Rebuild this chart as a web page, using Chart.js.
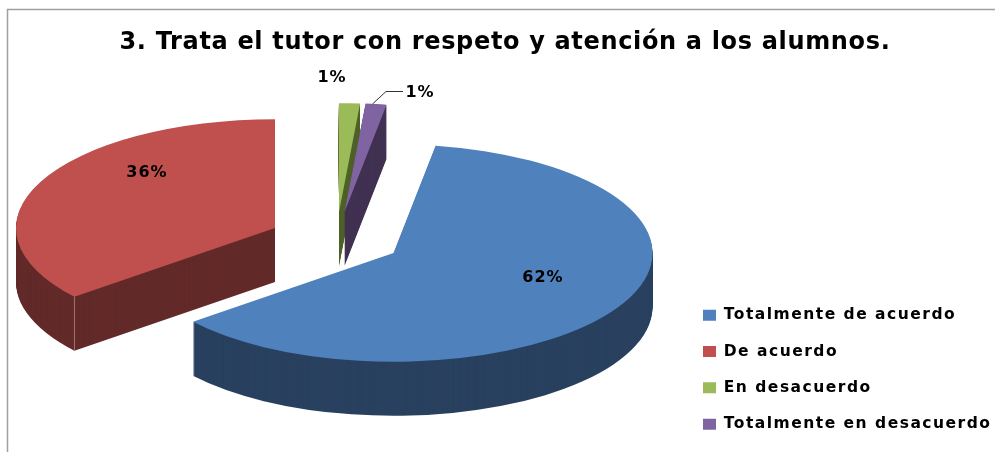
<!DOCTYPE html>
<html><head><meta charset="utf-8">
<style>html,body{margin:0;padding:0;background:#fff}canvas{display:block}</style>
<script src="https://cdn.jsdelivr.net/npm/chart.js@4"></script>
</head><body><canvas id="c" width="995" height="452"></canvas>
<script>
const chartTitle = '3. Trata el tutor con respeto y atención a los alumnos.';
const categories = ['Totalmente de acuerdo', 'De acuerdo', 'En desacuerdo', 'Totalmente en desacuerdo'];
const shares = [61.5, 35.9, 1.3, 1.3];
const topColors = ['#4F81BD', '#C0504D', '#9BBB59', '#8064A2'];
const sideColors = ['#29415F', '#632A2A', '#4F6228', '#403152'];

// Presentation of the tilted, exploded pie
const tilt = 0.42, depth = 54, radius = 259, rotationDeg = 9.35;
const sliceCentres = [[393.5, 253], [275, 228], [339, 212], [344.5, 212]];
const drawOrder = [2, 3, 1, 0];
const labelSpots = [[543, 278], [147, 173], [332, 78], [420, 93]];

const pie3d = {
  id: 'pie3d',
  beforeDraw(chart) {
    const ctx = chart.ctx;
    ctx.save();
    ctx.strokeStyle = '#A0A0A0';
    ctx.lineWidth = 1.5;
    ctx.beginPath();
    ctx.moveTo(7.5, 452); ctx.lineTo(7.5, 9.5); ctx.lineTo(995, 9.5);
    ctx.stroke();
    ctx.restore();
    const lg = chart.legend;
    lg.left = 703 - lg.options.labels.padding;
    lg.right = 995;
    lg.top = 307.5 - lg.options.labels.padding;
    lg.bottom = 500;
    lg.width = lg.right - lg.left;
    lg.height = lg.bottom - lg.top;
    if (!lg._tracked) {
      lg._tracked = true;
      const drawLegend = lg.draw.bind(lg);
      lg.draw = (area) => {
        const prev = ctx.letterSpacing;
        ctx.letterSpacing = '1.5px';
        drawLegend(area);
        ctx.letterSpacing = prev;
      };
      const ti = chart.titleBlock;
      const drawTitle = ti.draw.bind(ti);
      ti.draw = (area) => {
        const prev = ctx.letterSpacing;
        ctx.letterSpacing = '0.66px';
        drawTitle(area);
        ctx.letterSpacing = prev;
      };
    }
  },
  beforeDatasetDraw(chart) {
    const ctx = chart.ctx;
    const arcs = chart.getDatasetMeta(0).data;
    drawOrder.forEach(i => {
      const el = arcs[i];
      const [cx, cy] = sliceCentres[i];
      ctx.save();
      ctx.fillStyle = sideColors[i];
      for (let d = depth; d >= 1; d--) {
        ctx.beginPath();
        ctx.moveTo(cx, cy + d);
        ctx.ellipse(cx, cy + d, el.outerRadius, el.outerRadius * tilt, 0, el.startAngle, el.endAngle);
        ctx.closePath();
        ctx.fill();
      }
      if (i === 1) {
        const px = cx + el.outerRadius * Math.cos(el.startAngle);
        const py = cy + el.outerRadius * tilt * Math.sin(el.startAngle);
        ctx.strokeStyle = '#A07672';
        ctx.lineWidth = 1;
        ctx.beginPath();
        ctx.moveTo(px, py);
        ctx.lineTo(px, py + depth);
        ctx.stroke();
      }
      ctx.restore();
      ctx.save();
      ctx.translate(cx, cy);
      ctx.scale(1, tilt);
      ctx.translate(-el.x, -el.y);
      el.draw(ctx);
      ctx.restore();
    });
    return false;
  },
  afterDatasetsDraw(chart) {
    const ctx = chart.ctx;
    const total = shares.reduce((a, b) => a + b, 0);
    ctx.save();
    ctx.strokeStyle = '#333';
    ctx.lineWidth = 1;
    ctx.beginPath();
    ctx.moveTo(372.5, 104); ctx.lineTo(386, 91.5); ctx.lineTo(403, 91.5);
    ctx.stroke();
    ctx.fillStyle = '#000';
    ctx.font = 'bold 16px "DejaVu Sans"';
    ctx.letterSpacing = '1px';
    ctx.textAlign = 'center';
    ctx.textBaseline = 'middle';
    shares.forEach((v, i) => {
      ctx.fillText(Math.round(v / total * 100) + '%', labelSpots[i][0], labelSpots[i][1]);
    });
    ctx.restore();
  }
};

new Chart(document.getElementById('c'), {
  type: 'pie',
  data: {
    labels: categories,
    datasets: [{ data: shares, backgroundColor: topColors, borderWidth: 0, radius: radius, rotation: rotationDeg }]
  },
  plugins: [pie3d],
  options: {
    responsive: false,
    animation: false,
    layout: { padding: { left: 15, right: 0, top: 0, bottom: 0 } },
    plugins: {
      tooltip: { enabled: false },
      title: {
        display: true, text: chartTitle, color: '#000',
        font: { family: '"DejaVu Sans"', size: 24, weight: 'bold', lineHeight: 1.2 },
        padding: { top: 28, bottom: 4 }
      },
      legend: {
        position: 'right', align: 'start',
        labels: {
          color: '#000', boxWidth: 13, boxHeight: 11, padding: 20.8,
          font: { family: '"DejaVu Sans"', size: 15.5, weight: 'bold' }
        }
      }
    }
  }
});
</script></body></html>
